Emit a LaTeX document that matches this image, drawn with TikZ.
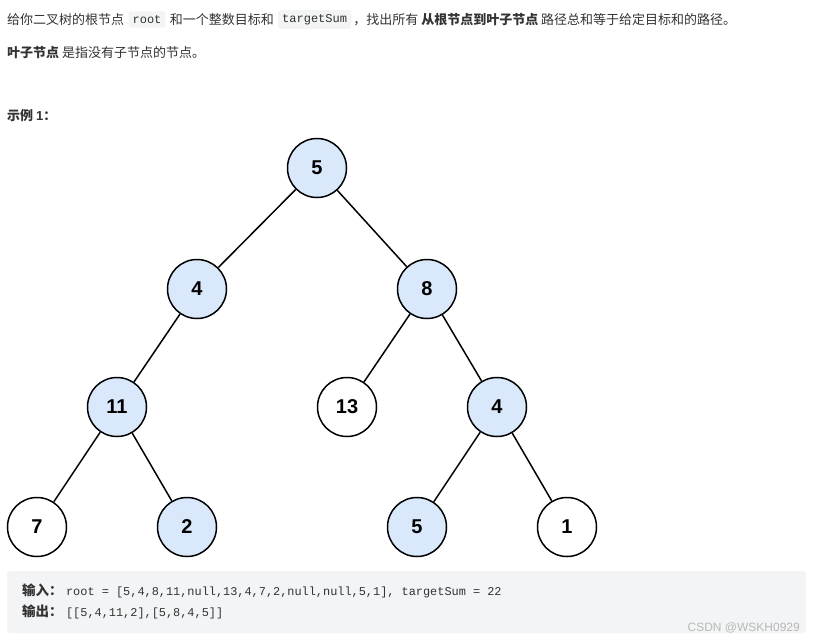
\documentclass[tikz,border=0pt]{standalone}
\usepackage{fontspec}
\setmainfont{Noto Sans CJK SC}
\newfontfamily\cjk{Noto Sans CJK SC}
\newfontfamily\digits{Liberation Sans}
\setmonofont{Liberation Mono}
\definecolor{nodeblue}{HTML}{DAE8FC}
\definecolor{codegray}{HTML}{F3F4F5}
\definecolor{inlinegray}{HTML}{F3F4F4}
\definecolor{textdark}{HTML}{333333}
\definecolor{markgray}{HTML}{B8B8B8}
\begin{document}
\begin{tikzpicture}[x=1pt,y=-1pt,
  treenode/.style={circle,draw,line width=1.5pt,minimum size=59pt,inner sep=0pt,
    font=\digits\fontsize{20}{20}\selectfont\bfseries},
  leafnode/.style={treenode,fill=white},
  pathnode/.style={treenode,fill=nodeblue},
  edge/.style={line width=1.5pt},
  body/.style={anchor=base west,inner sep=0pt,text=textdark,font=\cjk\fontsize{13}{13}\selectfont},
  inlinecode/.style={fill=inlinegray,rounded corners=2pt,inner xsep=4pt,inner ysep=4pt,
    font=\ttfamily\fontsize{12}{12}\selectfont,text=textdark}
]
\useasboundingbox (0,0) rectangle (814,641);
\fill[white] (0,0) rectangle (814,641);

% Problem text
\node[body] (l1a) at (7,24) {给你二叉树的根节点};
\node[inlinecode,anchor=west] (root) at ([xshift=4pt,yshift=4.5pt]l1a.base east) {root};
\node[body,anchor=west] (l1b) at ([xshift=4pt]root.east) {和一个整数目标和};
\node[inlinecode,anchor=west] (tsum) at ([xshift=4pt]l1b.west -| l1b.east) {targetSum};
\node[body,anchor=west] (l1c) at ([xshift=2pt]tsum.east) {，找出所有 \textbf{从根节点到叶子节点} 路径总和等于给定目标和的路径。};

\node[body] (l2) at (7,57) {\textbf{叶子节点} 是指没有子节点的节点。};
\node[body] (ex) at (7,120) {\textbf{示例 \digits 1}\textbf{：}};

% Tree
\node[pathnode] (n5) at (317,168) {5};
\node[pathnode] (n4) at (197,289) {4};
\node[pathnode] (n8) at (427,289) {8};
\node[pathnode] (n11) at (117,407) {11};
\node[leafnode] (n13) at (347,407) {13};
\node[pathnode] (n4b) at (497,407) {4};
\node[leafnode] (n7) at (37,527) {7};
\node[pathnode] (n2) at (187,527) {2};
\node[pathnode] (n5b) at (417,527) {5};
\node[leafnode] (n1) at (567,527) {1};

\foreach \a/\b in {n5/n4,n5/n8,n4/n11,n8/n13,n8/n4b,n11/n7,n11/n2,n4b/n5b,n4b/n1}
{
\draw[edge] (\a) -- (\b);
}

% Example block
\fill[codegray,rounded corners=3pt] (7,571) rectangle (806,633);
\node[body,font=\cjk\fontsize{13.5}{13}\selectfont] (inlab) at (22,595) {\textbf{输入：}};
\node[body,anchor=base west,font=\ttfamily\fontsize{11.9}{12}\selectfont] (indata) at ([xshift=3pt]inlab.base east) {root = [5,4,8,11,null,13,4,7,2,null,null,5,1], targetSum = 22};
\node[body,font=\cjk\fontsize{13.5}{13}\selectfont] (outlab) at (22,616) {\textbf{输出：}};
\node[body,anchor=base west,font=\ttfamily\fontsize{11.9}{12}\selectfont] (outdata) at ([xshift=3pt]outlab.base east) {[[5,4,11,2],[5,8,4,5]]};
\node[anchor=base east,inner sep=0pt,text=markgray,font=\digits\fontsize{12}{12}\selectfont] (mark) at (800,631) {CSDN @WSKH0929};

\end{tikzpicture}
\end{document}
